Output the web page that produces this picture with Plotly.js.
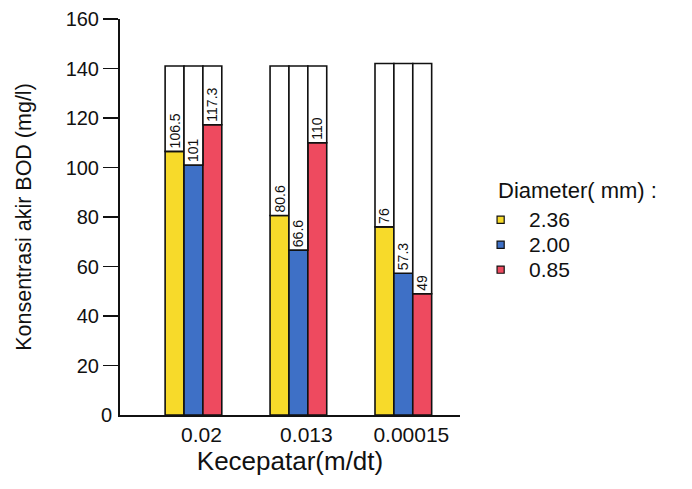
<!DOCTYPE html>
<html>
<head>
<meta charset="utf-8">
<script src="https://cdn.plot.ly/plotly-3.0.1.min.js"></script>
<style>html,body{margin:0;padding:0;background:#fff;}#chart{width:692px;height:489px;}</style>
</head>
<body>
<div id="chart"></div>
<script>
// Data
const categories = ["0.02", "0.013", "0.00015"];
const diameters = ["2.36", "2.00", "0.85"];
const val236 = [106.5, 80.6, 76];
const val200 = [101, 66.6, 57.3];
const val085 = [117.3, 110, 49];
const frameTop = [141, 141, 142];   // height of the open (white) frame of each bar
const labels236 = ["106.5", "80.6", "76"];
const labels200 = ["101", "66.6", "57.3"];
const labels085 = ["117.3", "110", "49"];
const yTicks = [20, 40, 60, 80, 100, 120, 140, 160];

const colors = ["#f7da2a", "#3e70c6", "#ee4a5f"];
const seriesVals = [val236, val200, val085];
const seriesLabels = [labels236, labels200, labels085];
const FONT = "Liberation Sans, Arial, sans-serif";

const traces = [];
seriesVals.forEach((vals, i) => {
  traces.push({
    type: "bar", x: categories, y: vals, name: diameters[i],
    offsetgroup: String(i), showlegend: false,
    marker: {color: colors[i], line: {color: "#111", width: 1.6}},
    hoverinfo: "skip"
  });
});
seriesVals.forEach((vals, i) => {
  traces.push({
    type: "bar", x: categories,
    y: vals.map((v, k) => frameTop[k] - v),
    base: vals,
    offsetgroup: String(i),
    showlegend: false,
    marker: {color: "#ffffff", line: {color: "#111", width: 1.6}},
    text: seriesLabels[i],
    textposition: "inside",
    insidetextanchor: "start",
    textangle: -90,
    constraintext: "none",
    textfont: {family: FONT, size: 14, color: "#111"},
    hoverinfo: "skip"
  });
});

// Hand-built legend (title + small squares + labels), placed to the right of the plot
const annotations = [{
  xref: "paper", yref: "paper", x: 1.105, y: 0.568, xanchor: "left", yanchor: "middle",
  text: "Diameter( mm) :", showarrow: false, font: {family: FONT, size: 22, color: "#111"}
}, {
  xref: "paper", yref: "y", x: 0, y: 0, xanchor: "right", yanchor: "middle", xshift: -6,
  text: "0", showarrow: false, font: {family: FONT, size: 20, color: "#111"}
}];
const shapes = [];
const legY0 = 0.494, legStep = 0.063;
diameters.forEach((d, i) => {
  const yc = legY0 - i * legStep;
  annotations.push({
    xref: "paper", yref: "paper", x: 1.197, y: yc, xanchor: "left", yanchor: "middle",
    text: d, showarrow: false, font: {family: FONT, size: 21, color: "#111"}
  });
  shapes.push({
    type: "rect", xref: "paper", yref: "paper",
    x0: 1.109, x1: 1.130, y0: yc - 0.010, y1: yc + 0.008,
    fillcolor: colors[i], line: {color: "#111", width: 1.2}
  });
});

const layout = {
  width: 692, height: 489,
  margin: {l: 120, r: 232, t: 19, b: 74},
  paper_bgcolor: "#fff", plot_bgcolor: "#fff",
  barmode: "group",
  bargap: 0.46,
  bargroupgap: 0,
  font: {family: FONT, color: "#111"},
  xaxis: {
    type: "category",
    range: [-0.7, 2.54],
    showline: true, linecolor: "#111", linewidth: 2,
    ticks: "", showgrid: false, zeroline: false,
    tickfont: {size: 21},
    ticklabelshift: 8,
    title: {text: "Kecepatar(m/dt)", font: {size: 26}, standoff: 5}
  },
  yaxis: {
    range: [0, 160],
    tickvals: yTicks,
    showline: true, linecolor: "#111", linewidth: 2,
    ticks: "outside", ticklen: 15, tickwidth: 1.6, tickcolor: "#111",
    showgrid: false, zeroline: false,
    tickfont: {size: 20},
    title: {text: "Konsentrasi akir BOD (mg/l)", font: {size: 21.5}, standoff: 28}
  },
  showlegend: false,
  annotations: annotations,
  shapes: shapes
};

Plotly.newPlot("chart", traces, layout, {displayModeBar: false, staticPlot: true});
</script>
</body>
</html>
